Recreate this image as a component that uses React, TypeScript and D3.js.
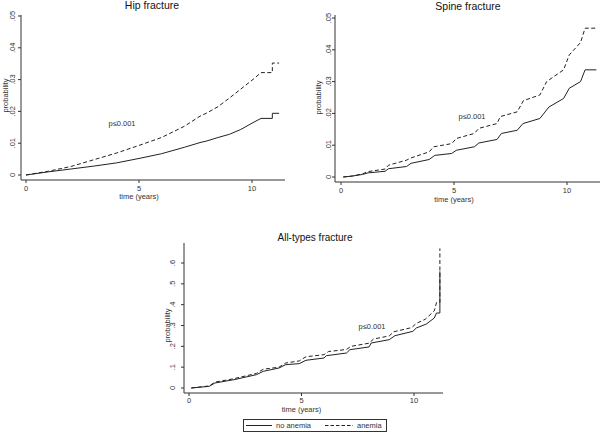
import React from "react";
import * as d3 from "d3";

type Pt = [number, number];

// ---- Data (time in years, cumulative probability) ----
const hipNoAnemia: Pt[] = [
  [0, 0], [1, 0.001], [2, 0.0019], [3, 0.0028], [4, 0.0038], [5, 0.0052], [6, 0.0067],
  [7, 0.0087], [7.7, 0.0102], [8, 0.0107], [8.5, 0.0118], [9, 0.0128], [9.5, 0.0143],
  [10, 0.0163], [10.4, 0.0178], [10.9, 0.0178], [10.9, 0.0194], [11.2, 0.0194],
];
const hipAnemia: Pt[] = [
  [0, 0], [1, 0.0012], [2, 0.0027], [3, 0.0048], [4, 0.0069], [5, 0.0093], [6, 0.0118],
  [7, 0.0153], [7.7, 0.0185], [8, 0.0195], [8.5, 0.0215], [9, 0.0242], [9.5, 0.027],
  [10, 0.0298], [10.4, 0.0322], [10.9, 0.0322], [10.9, 0.0352], [11.2, 0.0352],
];
const spineNoAnemia: Pt[] = [
  [0.1, 0], [0.5, 0.0003], [0.95, 0.0008], [1.2, 0.0013], [1.95, 0.0018], [2.1, 0.0026],
  [2.9, 0.0033], [3.1, 0.0043], [3.9, 0.0055], [4.15, 0.0068], [4.9, 0.0074], [5.1, 0.0084],
  [5.9, 0.0095], [6.1, 0.0107], [6.9, 0.0118], [7.1, 0.0137], [7.8, 0.0147], [8.05, 0.0168],
  [8.8, 0.0184], [9.2, 0.022], [9.85, 0.0247], [10.1, 0.0279], [10.6, 0.03], [10.8, 0.0337],
  [11.3, 0.0337],
];
const spineAnemia: Pt[] = [
  [0.1, 0], [0.5, 0.0003], [0.95, 0.001], [1.2, 0.0017], [1.95, 0.0025], [2.1, 0.0037],
  [2.9, 0.0053], [3.1, 0.006], [3.9, 0.0079], [4.1, 0.0095], [4.9, 0.0105], [5.1, 0.0121],
  [5.9, 0.0137], [6.1, 0.0153], [6.9, 0.0168], [7.05, 0.019], [7.8, 0.0205], [8.07, 0.024],
  [8.8, 0.0258], [9.1, 0.03], [9.85, 0.0337], [10.1, 0.0384], [10.6, 0.0423], [10.8, 0.0468],
  [11.3, 0.0468],
];
const allNoAnemia: Pt[] = [
  [0.1, 0], [0.9, 0.008], [1.15, 0.024], [2, 0.04], [3, 0.064], [3.3, 0.08], [4, 0.096],
  [4.3, 0.112], [4.9, 0.117], [5.2, 0.133], [6, 0.144], [6.1, 0.155], [7, 0.168], [7.15, 0.184],
  [8, 0.197], [8.1, 0.216], [8.9, 0.232], [9.15, 0.251], [9.95, 0.272], [10.1, 0.288],
  [10.55, 0.307], [10.9, 0.336], [11.0, 0.36], [11.15, 0.36], [11.15, 0.56],
];
const allAnemia: Pt[] = [
  [0.1, 0], [0.9, 0.01], [1.15, 0.028], [2, 0.045], [3, 0.07], [3.3, 0.09], [4, 0.1],
  [4.3, 0.12], [4.9, 0.13], [5.2, 0.15], [6, 0.16], [6.2, 0.175], [7, 0.185], [7.2, 0.2],
  [8, 0.215], [8.2, 0.235], [8.9, 0.25], [9.1, 0.27], [9.9, 0.29], [10.1, 0.31], [10.5, 0.33],
  [10.9, 0.37], [11.0, 0.41], [11.15, 0.41], [11.15, 0.67],
];

const xTicks = [0, 5, 10];
const yTicksSmall = [0, 0.01, 0.02, 0.03, 0.04, 0.05];
const yTicksAll = [0, 0.1, 0.2, 0.3, 0.4, 0.5, 0.6];
const titles = ["Hip fracture", "Spine fracture", "All-types fracture"];
const legendLabels = ["no anemia", "anemia"];
const pLabel = "p≤0.001";

const fmt = (v: number) => (v === 0 ? "0" : d3.format(".2~f")(v).replace(/^0/, ""));

const INK = "#222";
const TXT = "#333";
const FONT = "Liberation Sans, Arial, sans-serif";
const DASH = "4,2.5";

type PanelCfg = {
  title: string;
  solid: Pt[];
  dashed: Pt[];
  yTicks: number[];
  x0: number; x10: number;
  y0: number; yTop: number; yTopVal: number;
  axisX: number; axisTop: number; axisBottom: number; axisRight: number;
  yLabOff: number; probX: number;
  titleX: number; titleY: number; titleSize: number;
  xLabY: number; xTitleY: number;
  pX: number; pY: number;
};

function Panel({ c }: { c: PanelCfg }) {
  const x = d3.scaleLinear().domain([0, 10]).range([c.x0, c.x10]);
  const y = d3.scaleLinear().domain([0, c.yTopVal]).range([c.y0, c.yTop]);
  const line = d3.line<Pt>().x((d) => x(d[0])).y((d) => y(d[1])).curve(d3.curveLinear);
  const midY = (y(c.yTicks[0]) + y(c.yTicks[c.yTicks.length - 1])) / 2;
  return (
    <g fontFamily={FONT}>
      <text x={c.titleX} y={c.titleY} textAnchor="middle" fontSize={c.titleSize} fill="#111">
        {c.title}
      </text>
      <line x1={c.axisX} x2={c.axisX} y1={c.axisTop} y2={c.axisBottom} stroke={TXT} strokeWidth={1} />
      <line x1={c.axisX} x2={c.axisRight} y1={c.axisBottom} y2={c.axisBottom} stroke={TXT} strokeWidth={1} />
      {c.yTicks.map((t) => (
        <g key={"y" + t}>
          <line x1={c.axisX - 3} x2={c.axisX} y1={y(t)} y2={y(t)} stroke={TXT} />
          <text
            transform={`translate(${c.axisX - c.yLabOff},${y(t)}) rotate(-90)`}
            textAnchor="middle"
            dominantBaseline="central"
            fontSize={7.5}
            fill={TXT}
          >
            {fmt(t)}
          </text>
        </g>
      ))}
      {xTicks.map((t) => (
        <g key={"x" + t}>
          <line x1={x(t)} x2={x(t)} y1={c.axisBottom} y2={c.axisBottom + 3} stroke={TXT} />
          <text x={x(t)} y={c.xLabY} textAnchor="middle" dominantBaseline="central" fontSize={7.5} fill={TXT}>
            {t}
          </text>
        </g>
      ))}
      <text
        transform={`translate(${c.probX},${midY}) rotate(-90)`}
        textAnchor="middle"
        dominantBaseline="central"
        fontSize={7.5}
        fill={TXT}
      >
        probability
      </text>
      <text x={x(5)} y={c.xTitleY} textAnchor="middle" dominantBaseline="central" fontSize={7.5} fill={TXT}>
        time (years)
      </text>
      <text x={c.pX} y={c.pY} textAnchor="middle" dominantBaseline="central" fontSize={7.5} fill={TXT}>
        {pLabel}
      </text>
      <path d={line(c.solid) || ""} fill="none" stroke={INK} strokeWidth={1} />
      <path d={line(c.dashed) || ""} fill="none" stroke={INK} strokeWidth={1} strokeDasharray={DASH} />
    </g>
  );
}

const panels: PanelCfg[] = [
  {
    title: titles[0], solid: hipNoAnemia, dashed: hipAnemia, yTicks: yTicksSmall,
    x0: 26, x10: 252, y0: 175, yTop: 16, yTopVal: 0.05,
    axisX: 21, axisTop: 15, axisBottom: 180, axisRight: 285,
    yLabOff: 9, probX: 5, titleX: 152, titleY: 9, titleSize: 10.5,
    xLabY: 188, xTitleY: 196.5, pX: 122, pY: 123,
  },
  {
    title: titles[1], solid: spineNoAnemia, dashed: spineAnemia, yTicks: yTicksSmall,
    x0: 341, x10: 567, y0: 177, yTop: 18, yTopVal: 0.05,
    axisX: 335, axisTop: 15, axisBottom: 182, axisRight: 600,
    yLabOff: 6.5, probX: 318, titleX: 468, titleY: 10, titleSize: 10.5,
    xLabY: 190, xTitleY: 199, pX: 472, pY: 116,
  },
  {
    title: titles[2], solid: allNoAnemia, dashed: allAnemia, yTicks: yTicksAll,
    x0: 189, x10: 414, y0: 388, yTop: 263, yTopVal: 0.6,
    axisX: 184, axisTop: 243, axisBottom: 393, axisRight: 443,
    yLabOff: 11.5, probX: 167, titleX: 315, titleY: 241, titleSize: 10,
    xLabY: 400.5, xTitleY: 409.5, pX: 372, pY: 326,
  },
];

export default function App() {
  return (
    <svg
      width={600}
      height={432}
      style={{ position: "absolute", left: 0, top: 0, background: "#fff" }}
    >
      <rect x={0} y={0} width={600} height={432} fill="#fff" />
      {panels.map((c, i) => (
        <Panel key={i} c={c} />
      ))}
      <g fontFamily={FONT} fontSize={7.5} fill={TXT}>
        <rect x={243.5} y={419.5} width={143} height={12} fill="#fff" stroke={TXT} strokeWidth={1} />
        <line x1={246} x2={272} y1={425.5} y2={425.5} stroke={INK} />
        <text x={276} y={425.5} dominantBaseline="central">{legendLabels[0]}</text>
        <line x1={325} x2={353} y1={425.5} y2={425.5} stroke={INK} strokeDasharray="3.5,2" />
        <text x={357} y={425.5} dominantBaseline="central">{legendLabels[1]}</text>
      </g>
    </svg>
  );
}
